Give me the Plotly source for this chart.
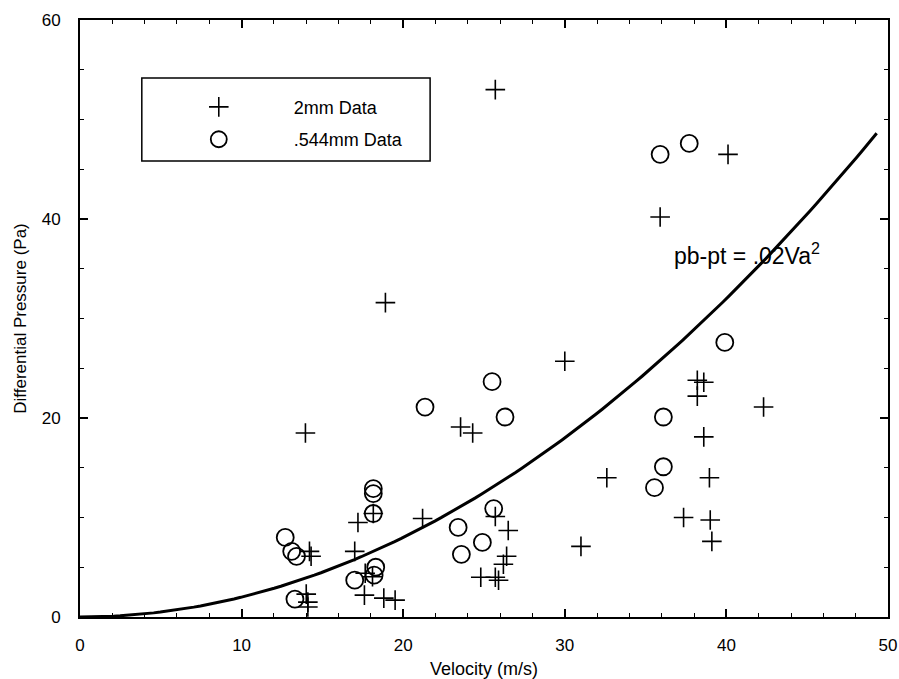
import numpy as np
import plotly.graph_objects as go

# 2mm data (crosses)
v_2mm = [25.7, 40.1, 35.9, 18.9, 30.0, 42.3, 38.2, 38.6, 38.2, 38.6, 38.95, 37.35, 39.0, 39.1,
         32.6, 31.0, 23.55, 24.3, 25.7, 26.5, 26.4, 26.2, 24.8, 25.7, 25.9, 21.2, 13.95,
         14.2, 14.3, 14.0, 14.1, 14.1, 17.2, 17.0, 18.15, 17.65, 18.1, 17.6, 18.8, 19.5]
p_2mm = [53.0, 46.5, 40.2, 31.6, 25.7, 21.1, 23.8, 23.6, 22.2, 18.1, 14.0, 10.0, 9.75, 7.6,
         14.0, 7.1, 19.1, 18.5, 10.1, 8.7, 6.1, 5.3, 4.0, 4.0, 3.7, 9.9, 18.5,
         6.6, 6.1, 2.3, 1.5, 1.0, 9.5, 6.6, 10.4, 4.4, 4.05, 2.2, 1.9, 1.7]

# .544mm data (circles)
v_544 = [35.9, 37.7, 39.9, 25.5, 26.3, 21.35, 36.1, 36.1, 35.55, 23.6, 24.9, 23.4, 25.6,
         12.7, 13.1, 13.4, 13.3, 18.15, 18.15, 18.15, 17.0, 18.2, 18.3]
p_544 = [46.5, 47.6, 27.6, 23.65, 20.1, 21.1, 20.1, 15.1, 13.0, 6.3, 7.5, 9.0, 10.9,
         8.0, 6.6, 6.1, 1.8, 12.9, 12.4, 10.4, 3.7, 4.2, 5.0]

# Fitted curve pb-pt = 0.02 Va^2
coef = 0.02
v_fit = np.linspace(0, 49.3, 120)
p_fit = coef * v_fit ** 2

x_ticks = [0, 10, 20, 30, 40, 50]
y_ticks = [0, 20, 40, 60]

FONT = "Liberation Sans, Arial, Helvetica, sans-serif"
nb = "\u00a0" * 11

fig = go.Figure()
fig.add_trace(go.Scatter(x=v_fit, y=p_fit, mode="lines", line=dict(color="black", width=3),
                         showlegend=False, hoverinfo="skip"))
fig.add_trace(go.Scatter(x=v_2mm, y=p_2mm, mode="markers", name=nb + "2mm Data", legendgroup="a",
                         marker=dict(symbol="cross-thin-open", size=14, color="black",
                                     line=dict(color="black", width=1.6))))
fig.add_trace(go.Scatter(x=v_544, y=p_544, mode="markers", name=nb + ".544mm Data", legendgroup="b",
                         marker=dict(symbol="circle-open", size=17, color="black",
                                     line=dict(color="black", width=1.8))))

fig.add_annotation(x=41.3, y=36.5, xref="x", yref="y", text="pb-pt = .02Va<sup>2</sup>",
                   showarrow=False, font=dict(family=FONT, size=23, color="black"),
                   xanchor="center", yanchor="middle")

# legend box
fig.add_shape(type="rect", xref="paper", yref="paper", x0=0.0765, x1=0.4333, y0=0.7638, y1=0.9028,
              line=dict(color="black", width=1.5), fillcolor="rgba(0,0,0,0)")

axis_common = dict(showline=True, linewidth=2, linecolor="black", mirror="ticks",
                   ticks="inside", ticklen=8, tickwidth=1.5, tickcolor="black",
                   showgrid=False, zeroline=False, automargin=False,
                   tickfont=dict(family=FONT, size=17, color="black"))

fig.update_xaxes(range=[0, 50], tickvals=x_ticks, ticklabelstandoff=12,
                 minor=dict(dtick=2, ticks="inside", ticklen=4, tickwidth=1.2, tickcolor="black"),
                 title=dict(text="Velocity (m/s)", font=dict(family=FONT, size=18, color="black"),
                            standoff=10),
                 **axis_common)
fig.update_yaxes(range=[0, 60], tickvals=y_ticks, ticklabelstandoff=14,
                 minor=dict(dtick=5, ticks="inside", ticklen=4, tickwidth=1.2, tickcolor="black"),
                 title=dict(text="Differential Pressure (Pa)", font=dict(family=FONT, size=17, color="black"),
                            standoff=11),
                 **axis_common)

fig.update_layout(
    width=899, height=679,
    margin=dict(l=80, r=11, t=20, b=62),
    paper_bgcolor="white", plot_bgcolor="white",
    showlegend=True,
    legend=dict(x=0.147, y=0.885, xanchor="left", yanchor="top",
                bgcolor="rgba(0,0,0,0)", borderwidth=0,
                font=dict(family=FONT, size=18, color="black"),
                traceorder="grouped", tracegroupgap=6, itemsizing="trace"),
    font=dict(family=FONT, color="black"),
)

fig.write_html("out.html")
